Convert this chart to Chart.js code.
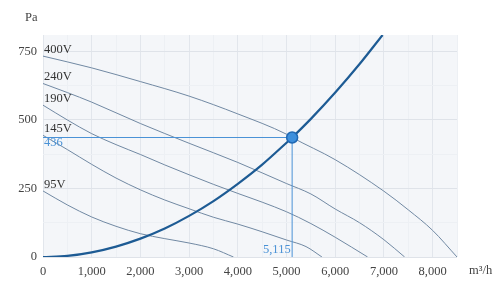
<!DOCTYPE html>
<html><head><meta charset="utf-8">
<script src="https://cdn.jsdelivr.net/npm/chart.js@4/dist/chart.umd.min.js"></script>
<style>html,body{margin:0;padding:0;background:#fff}canvas{display:block}</style>
</head><body>
<canvas id="c" width="500" height="295"></canvas>
<script>
// ---- data ----
const curveNames = ['400V', '240V', '190V', '145V', '95V'];
const flow400 = [0, 1000, 2000, 3000, 4000, 5000, 5115, 6000, 7000, 7500, 8000, 8500];
const pa400   = [733, 690, 640, 587, 522, 448, 436, 355, 240, 172, 97, 0];
const flow240 = [0, 500, 1000, 2000, 3000, 4000, 5000, 5500, 6000, 6500, 7000, 7425];
const pa240   = [633, 600, 565, 487, 415, 345, 268, 230, 175, 125, 63, 0];
const flow190 = [0, 500, 1000, 1500, 2000, 2500, 3000, 3500, 4000, 4500, 5000, 5500, 6000, 6665];
const pa190   = [554, 500, 450, 410, 374, 336, 300, 265, 232, 200, 165, 122, 72, 0];
const flow145 = [0, 500, 1000, 1500, 2000, 2500, 3000, 3500, 4000, 4500, 5000, 5400, 5727];
const pa145   = [444, 392, 338, 288, 245, 208, 176, 145, 120, 92, 62, 38, 0];
const flow95  = [0, 500, 1000, 1500, 2000, 2500, 3000, 3500, 3911];
const pa95    = [241, 190, 146, 112, 85, 67, 51, 30, 0];
const systemFlow = [0, 500, 1000, 1500, 2000, 2500, 3000, 3500, 4000, 4500, 5000, 5115, 5500, 6000, 6500, 6972];
const systemPa   = [0, 4, 17, 38, 67, 104, 150, 204, 267, 337, 417, 436, 504, 600, 704, 810];
const opFlow = 5115;
const opPa = 436;
const xTickValues = [0, 1000, 2000, 3000, 4000, 5000, 6000, 7000, 8000];
const yTickValues = [0, 250, 500, 750];
const xUnit = 'm³/h';
const yUnit = 'Pa';

// ---- build ----
const fanFlows = [flow400, flow240, flow190, flow145, flow95];
const fanPas = [pa400, pa240, pa190, pa145, pa95];
const pts = (xs, ys) => xs.map((x, i) => ({x: x, y: ys[i]}));
const FONT = "'Liberation Serif', 'DejaVu Serif', serif";
const fanColor = '#7189a3';
const sysColor = '#1d5b94';
const opColor = '#4a92d6';

const datasets = [];
fanFlows.forEach((f, i) => {
  datasets.push({
    label: curveNames[i], data: pts(f, fanPas[i]), showLine: true, borderColor: fanColor, borderWidth: 1,
    pointRadius: 0, cubicInterpolationMode: 'monotone', order: 4, fill: false
  });
});
datasets.push({label: 'h', data: [{x: 0, y: opPa}, {x: opFlow, y: opPa}], showLine: true, borderColor: opColor, borderWidth: 1, pointRadius: 0, order: 3});
datasets.push({label: 'v', data: [{x: opFlow, y: 0}, {x: opFlow, y: opPa}], showLine: true, borderColor: opColor, borderWidth: 1, pointRadius: 0, order: 3});
datasets.push({label: 'system', data: pts(systemFlow, systemPa), showLine: true, borderColor: sysColor, borderWidth: 2.2, pointRadius: 0, cubicInterpolationMode: 'monotone', order: 2});
datasets.push({label: 'op', data: [{x: opFlow, y: opPa}], showLine: false, pointRadius: 5.5, pointBackgroundColor: '#3d8fdc', pointBorderColor: '#1f68b3', pointBorderWidth: 1.5, order: 1});

const decor = {
  id: 'decor',
  beforeDraw(chart) {
    const {ctx, chartArea: a} = chart;
    ctx.save();
    ctx.fillStyle = '#f4f6f9';
    ctx.fillRect(a.left, a.top, a.right - a.left, a.bottom - a.top);
    ctx.restore();
  },
  afterDatasetsDraw(chart) {
    const {ctx, scales: {x, y}} = chart;
    ctx.save();
    ctx.font = '12.5px ' + FONT;
    ctx.textBaseline = 'middle';
    ctx.textAlign = 'left';
    ctx.fillStyle = '#333';
    fanPas.forEach((p, i) => {
      ctx.fillText(curveNames[i], x.getPixelForValue(0) + 1, y.getPixelForValue(p[0]) - 6.5);
    });
    ctx.fillStyle = opColor;
    ctx.fillText(String(opPa), x.getPixelForValue(0) + 1, y.getPixelForValue(opPa) + 5.5);
    ctx.textAlign = 'right';
    ctx.fillText(opFlow.toLocaleString('en-US'), x.getPixelForValue(opFlow) - 1.5, y.getPixelForValue(0) - 7);
    ctx.fillStyle = '#444';
    ctx.textAlign = 'left';
    ctx.fillText(yUnit, 25, 18);
    ctx.fillText(xUnit, 469, 271);
    ctx.restore();
  }
};

const isMajor = (v, list) => list.includes(v);

new Chart(document.getElementById('c'), {
  type: 'scatter',
  data: {datasets},
  options: {
    responsive: false, animation: false, devicePixelRatio: 1,
    layout: {padding: {top: 35, right: 43, left: 0, bottom: 0}},
    plugins: {legend: {display: false}, tooltip: {enabled: false}},
    elements: {line: {tension: 0}},
    scales: {
      x: {
        type: 'linear', min: 0, max: 8500,
        afterFit(s) { s.height = 38; },
        border: {display: false},
        grid: {drawTicks: false, color: c => isMajor(c.tick.value, xTickValues) ? '#e2e6ec' : '#edf0f4'},
        ticks: {stepSize: 500, padding: 7, color: '#444', font: {family: FONT, size: 12.5},
          maxRotation: 0, minRotation: 0, autoSkip: false,
          callback: v => isMajor(v, xTickValues) ? v.toLocaleString('en-US') : ''}
      },
      y: {
        type: 'linear', min: 0, max: 810,
        afterFit(s) { s.width = 43; },
        border: {display: false},
        grid: {drawTicks: false, color: c => isMajor(c.tick.value, yTickValues) ? '#dfe3e9' : (c.tick.value % 125 === 0 ? '#edf0f4' : 'rgba(0,0,0,0)')},
        ticks: {stepSize: 125, padding: 6, color: '#444', font: {family: FONT, size: 12.5}, autoSkip: false,
          callback: v => isMajor(v, yTickValues) ? v.toLocaleString('en-US') : ''}
      }
    }
  },
  plugins: [decor]
});
</script>
</body></html>
